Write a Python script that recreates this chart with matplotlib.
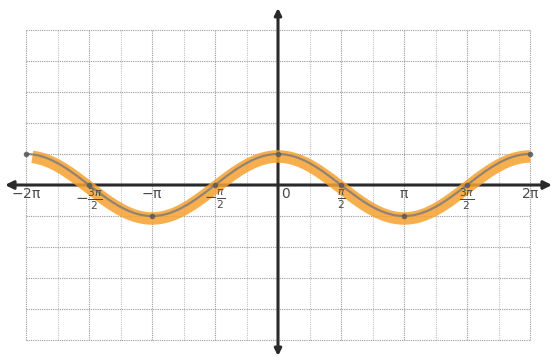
import numpy as np
import matplotlib
matplotlib.use("Agg")
import matplotlib.pyplot as plt

PI = np.pi
# data
tick_values = [-2*PI, -3*PI/2, -PI, -PI/2, 0, PI/2, PI, 3*PI/2, 2*PI]
tick_labels = [r'$\mathregular{-2\pi}$', r'$-\frac{3\pi}{2}$', r'$\mathregular{-\pi}$', r'$-\frac{\pi}{2}$',
               '0', r'$\frac{\pi}{2}$', r'$\mathregular{\pi}$', r'$\frac{3\pi}{2}$', r'$\mathregular{2\pi}$']
curve_x = np.linspace(-2*PI, 2*PI, 400)
curve_y = np.cos(curve_x)
key_x = [-2*PI, -3*PI/2, -PI, -PI/2, 0, PI/2, PI, 3*PI/2, 2*PI]
key_y = [1, 0, -1, 0, 1, 0, -1, 0, 1]

fig = plt.figure(figsize=(5.55, 3.6), dpi=100)
ax = fig.add_axes([0, 0, 1, 1])
pxx = PI/126.0   # radians per pixel
pxy = 1/31.0
ax.set_xlim(-278*pxx, 277*pxx)
ax.set_ylim(-175*pxy, 185*pxy)
ax.axis('off')

# grid
for i in range(-8, 9):
    xv = i*PI/4
    c = '#9a9a9a' if i % 2 == 0 else '#c2c2c2'
    ax.plot([xv, xv], [-5, 5], color=c, lw=0.8, ls=(0, (1, 1)), zorder=1)
for j in range(-5, 6):
    ax.plot([-2*PI, 2*PI], [j, j], color='#9a9a9a', lw=0.8, ls=(0, (1, 1)), zorder=1)

# axes with arrows
ax.annotate('', xy=(-273*pxx, 0), xytext=(274*pxx, 0),
            arrowprops=dict(arrowstyle='<|-|>', lw=2.2, color='#2a2a2a',
                            mutation_scale=12, shrinkA=0, shrinkB=0), zorder=3)
ax.annotate('', xy=(0, 177*pxy), xytext=(0, -171*pxy),
            arrowprops=dict(arrowstyle='<|-|>', lw=2.2, color='#2a2a2a',
                            mutation_scale=10, shrinkA=0, shrinkB=0), zorder=3)

# curve
ax.plot(curve_x[5:], curve_y[5:] - 0.08, color='#f5a030', lw=9, alpha=0.85,
        solid_capstyle='butt', zorder=4)
ax.plot(curve_x, curve_y, color='#7a7a7a', lw=1.6, alpha=0.8, zorder=5)
ax.plot(key_x, key_y, ls='none', marker='o', ms=3, color='#5a5a5a', alpha=0.8, zorder=6)

# labels
for v, lab in zip(tick_values, tick_labels):
    frac = 'frac' in lab
    xo = 7*pxx if v == 0 else 0
    yo = -14*pxy if frac else -9*pxy
    ax.text(v + xo, yo, lab, ha='center', va='center', fontsize=10 if not frac else 11,
            color='#4a4a4a', zorder=7)

fig.savefig('out.png', dpi=100)
